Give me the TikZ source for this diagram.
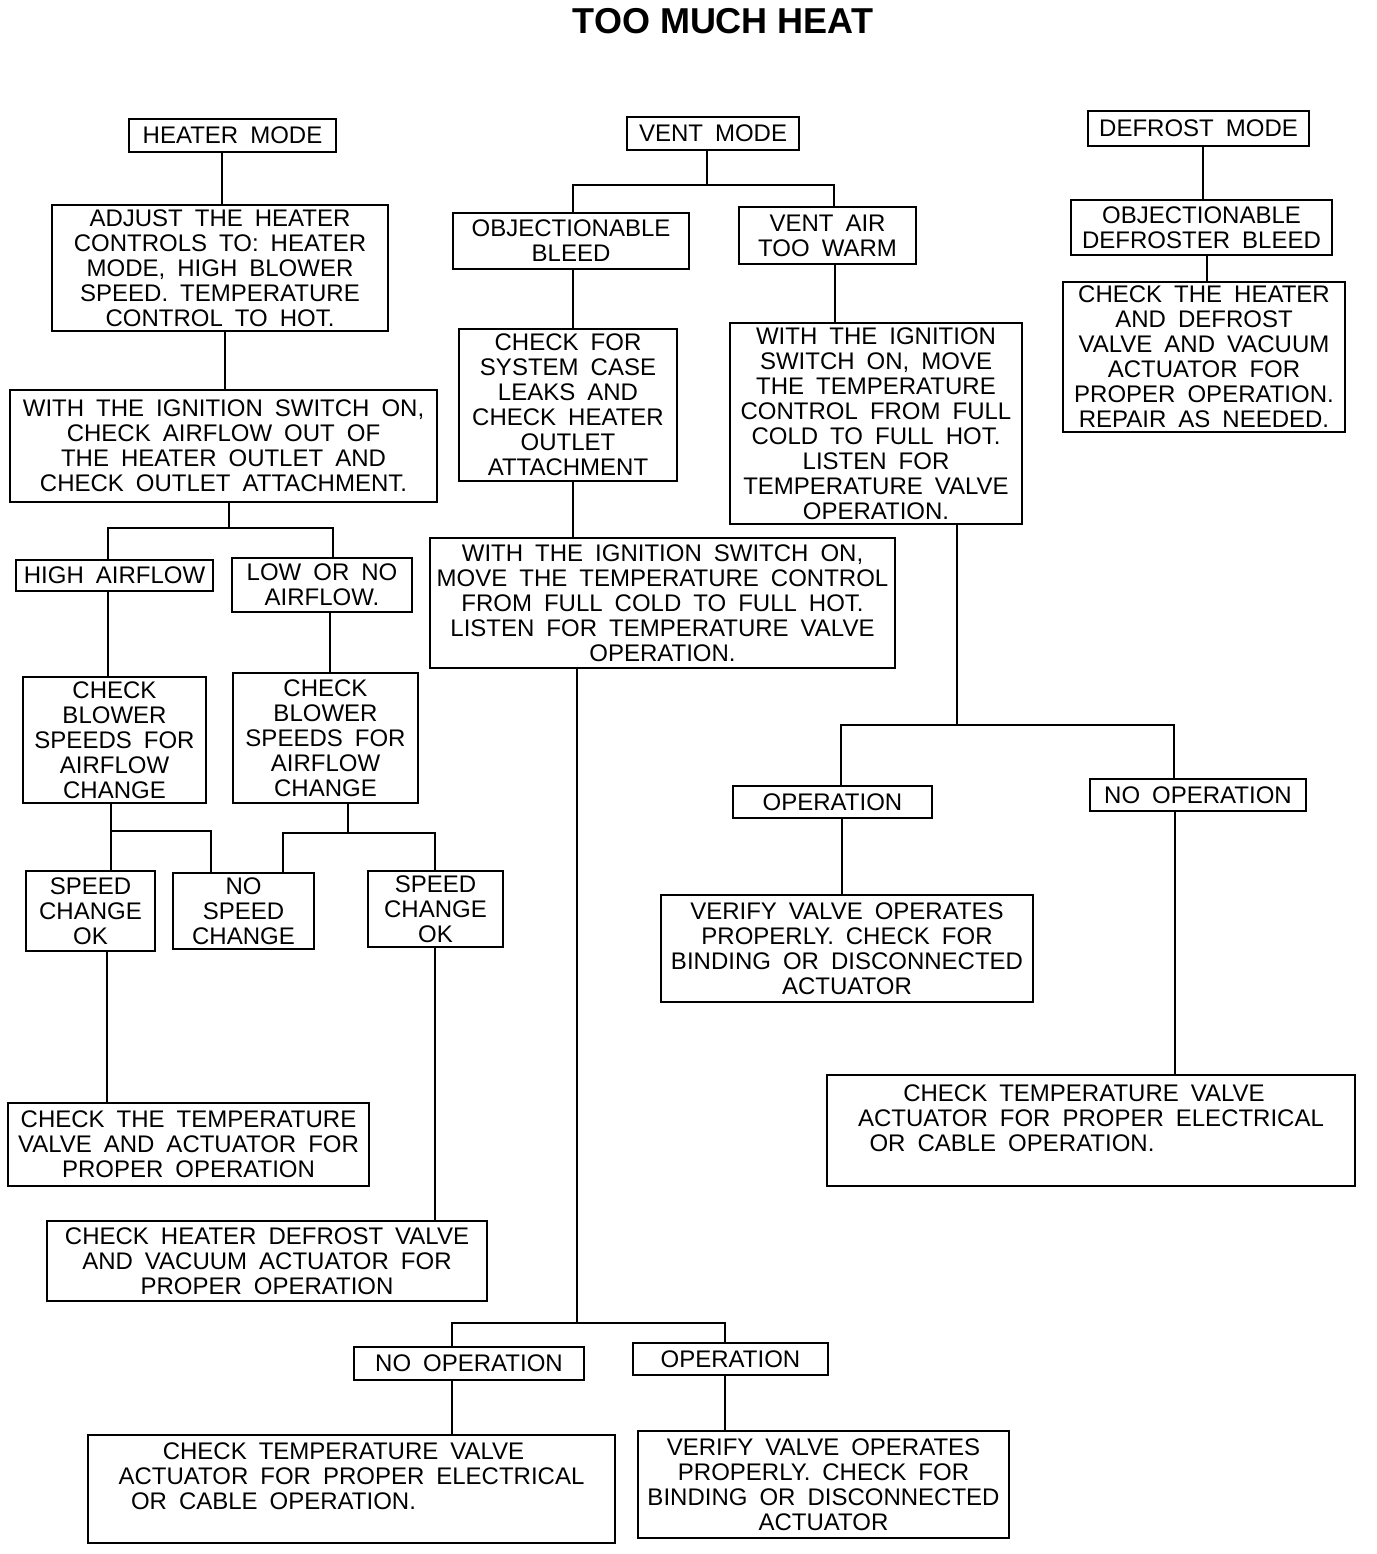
\documentclass[tikz,border=0pt]{standalone}
\usepackage{fontspec}
\setmainfont{Liberation Sans}[WordSpace=1.8]
\newfontfamily\titlefont{Liberation Sans}
\begin{document}
\begin{tikzpicture}[x=1pt,y=-1pt,
  bx/.style={draw, line width=2.6pt, inner sep=0pt, align=center, font=\fontsize{24}{25}\selectfont},
  ln/.style={line width=2.6pt}]
\useasboundingbox[fill=white] (0,0) rectangle (1376,1554);
\node[font=\titlefont\fontsize{36}{40}\selectfont\bfseries] (title) at (723,21) {TOO MUCH HEAT};
% heater column
\node[bx, minimum width=207pt, minimum height=33pt] (hm) at (232.5,135.5) {HEATER MODE};
\node[bx, minimum width=336pt, minimum height=126pt] (adj) at (220,268) {ADJUST THE HEATER\\CONTROLS TO: HEATER\\MODE, HIGH BLOWER\\SPEED. TEMPERATURE\\CONTROL TO HOT.};
\node[bx, minimum width=427pt, minimum height=112pt] (hw) at (223.5,446) {WITH THE IGNITION SWITCH ON,\\CHECK AIRFLOW OUT OF\\THE HEATER OUTLET AND\\CHECK OUTLET ATTACHMENT.};
\node[bx, minimum width=197pt, minimum height=31pt] (ha) at (114.5,575.5) {HIGH AIRFLOW};
\node[bx, minimum width=180pt, minimum height=54pt] (la) at (322,585) {LOW OR NO\\AIRFLOW.};
\node[bx, minimum width=183pt, minimum height=126pt] (cb1) at (114.5,740) {CHECK\\BLOWER\\SPEEDS FOR\\AIRFLOW\\CHANGE};
\node[bx, minimum width=185pt, minimum height=130pt] (cb2) at (325.5,738) {CHECK\\BLOWER\\SPEEDS FOR\\AIRFLOW\\CHANGE};
\node[bx, minimum width=129pt, minimum height=80pt] (sc1) at (90.5,911) {SPEED\\CHANGE\\OK};
\node[bx, minimum width=141pt, minimum height=76pt] (ns) at (243.5,911) {NO\\SPEED\\CHANGE};
\node[bx, minimum width=135pt, minimum height=76pt] (sc2) at (435.5,909) {SPEED\\CHANGE\\OK};
\node[bx, minimum width=361pt, minimum height=83pt] (ct1) at (188.5,1144.5) {CHECK THE TEMPERATURE\\VALVE AND ACTUATOR FOR\\PROPER OPERATION};
\node[bx, minimum width=440pt, minimum height=80pt] (chd) at (267,1261) {CHECK HEATER DEFROST VALVE\\AND VACUUM ACTUATOR FOR\\PROPER OPERATION};
% vent column
\node[bx, minimum width=172pt, minimum height=33pt] (vm) at (713,133.5) {VENT MODE};
\node[bx, minimum width=236pt, minimum height=56pt] (ob) at (571,241) {OBJECTIONABLE\\BLEED};
\node[bx, minimum width=177pt, minimum height=57pt] (va) at (827.5,235.5) {VENT AIR\\TOO WARM};
\node[bx, minimum width=218pt, minimum height=152pt] (cs) at (568,405) {CHECK FOR\\SYSTEM CASE\\LEAKS AND\\CHECK HEATER\\OUTLET\\ATTACHMENT};
\node[bx, minimum width=465pt, minimum height=130pt] (vw1) at (662.5,603) {WITH THE IGNITION SWITCH ON,\\MOVE THE TEMPERATURE CONTROL\\FROM FULL COLD TO FULL HOT.\\LISTEN FOR TEMPERATURE VALVE\\OPERATION.};
\node[bx, minimum width=292pt, minimum height=201pt] (vw2) at (876,423.5) {WITH THE IGNITION\\SWITCH ON, MOVE\\THE TEMPERATURE\\CONTROL FROM FULL\\COLD TO FULL HOT.\\LISTEN FOR\\TEMPERATURE VALVE\\OPERATION.};
\node[bx, minimum width=199pt, minimum height=32pt] (op1) at (832.5,802) {OPERATION};
\node[bx, minimum width=216pt, minimum height=32pt] (no1) at (1198,795) {NO OPERATION};
\node[bx, minimum width=372pt, minimum height=107pt] (vv1) at (847,948.5) {VERIFY VALVE OPERATES\\PROPERLY. CHECK FOR\\BINDING OR DISCONNECTED\\ACTUATOR};
\node[bx, minimum width=528pt, minimum height=111pt] (ctv1) at (1091,1130.5) {CHECK TEMPERATURE VALVE\hspace*{14pt}\mbox{}\\ACTUATOR FOR PROPER ELECTRICAL\\OR CABLE OPERATION.\hspace*{158pt}\mbox{}\\\mbox{}};
\node[bx, minimum width=230pt, minimum height=33pt] (no2) at (469,1363.5) {NO OPERATION};
\node[bx, minimum width=195pt, minimum height=32pt] (op2) at (730.5,1359) {OPERATION};
\node[bx, minimum width=527pt, minimum height=108pt] (ctv2) at (351.5,1489) {CHECK TEMPERATURE VALVE\hspace*{16pt}\mbox{}\\ACTUATOR FOR PROPER ELECTRICAL\\OR CABLE OPERATION.\hspace*{156pt}\mbox{}\\\mbox{}};
\node[bx, minimum width=371pt, minimum height=107pt] (vv2) at (823.5,1484.5) {VERIFY VALVE OPERATES\\PROPERLY. CHECK FOR\\BINDING OR DISCONNECTED\\ACTUATOR};
% defrost column
\node[bx, minimum width=221pt, minimum height=35pt] (dm) at (1198.5,128.5) {DEFROST MODE};
\node[bx, minimum width=261pt, minimum height=55pt] (odb) at (1201.5,227.5) {OBJECTIONABLE\\DEFROSTER BLEED};
\node[bx, minimum width=282pt, minimum height=150pt] (ch) at (1204,357) {CHECK THE HEATER\\AND DEFROST\\VALVE AND VACUUM\\ACTUATOR FOR\\PROPER OPERATION.\\REPAIR AS NEEDED.};
% junction points
\coordinate (hb) at (229,528);
\coordinate (b2) at (111,831);
\coordinate (b3) at (348,833);
\coordinate (vb) at (707,185);
\coordinate (vb2) at (577,1323);
\coordinate (vb3) at (957,725);
% heater connectors
\draw[ln] (hm.south -| 222,0) -- (adj.north -| 222,0);
\draw[ln] (adj.south -| 225,0) -- (hw.north -| 225,0);
\draw[ln] (hw.south -| hb) -- (hb);
\draw[ln] (ha.north -| 108,0) |- (hb) -| (la.north -| 333,0);
\draw[ln] (ha.south -| 108,0) -- (cb1.north -| 108,0);
\draw[ln] (la.south -| 330,0) -- (cb2.north -| 330,0);
\draw[ln] (cb1.south -| b2) -- (sc1.north -| b2);
\draw[ln] (b2) -| (ns.north -| 211,0);
\draw[ln] (cb2.south -| b3) -- (b3);
\draw[ln] (ns.north -| 283,0) |- (b3) -| (sc2.north -| 435,0);
\draw[ln] (sc1.south -| 107,0) -- (ct1.north -| 107,0);
\draw[ln] (sc2.south -| 435,0) -- (chd.north -| 435,0);
% vent connectors
\draw[ln] (vm.south -| vb) -- (vb);
\draw[ln] (ob.north -| 573,0) |- (vb) -| (va.north -| 834,0);
\draw[ln] (ob.south -| 573,0) -- (cs.north -| 573,0);
\draw[ln] (cs.south -| 573,0) -- (vw1.north -| 573,0);
\draw[ln] (vw1.south -| vb2) -- (vb2);
\draw[ln] (no2.north -| 452,0) |- (vb2) -| (op2.north -| 725,0);
\draw[ln] (no2.south -| 452,0) -- (ctv2.north -| 452,0);
\draw[ln] (op2.south -| 725,0) -- (vv2.north -| 725,0);
\draw[ln] (va.south -| 835,0) -- (vw2.north -| 835,0);
\draw[ln] (vw2.south -| vb3) -- (vb3);
\draw[ln] (op1.north -| 841,0) |- (vb3) -| (no1.north -| 1174,0);
\draw[ln] (op1.south -| 842,0) -- (vv1.north -| 842,0);
\draw[ln] (no1.south -| 1175,0) -- (ctv1.north -| 1175,0);
% defrost connectors
\draw[ln] (dm.south -| 1203,0) -- (odb.north -| 1203,0);
\draw[ln] (odb.south -| 1207,0) -- (ch.north -| 1207,0);
\end{tikzpicture}
\end{document}
